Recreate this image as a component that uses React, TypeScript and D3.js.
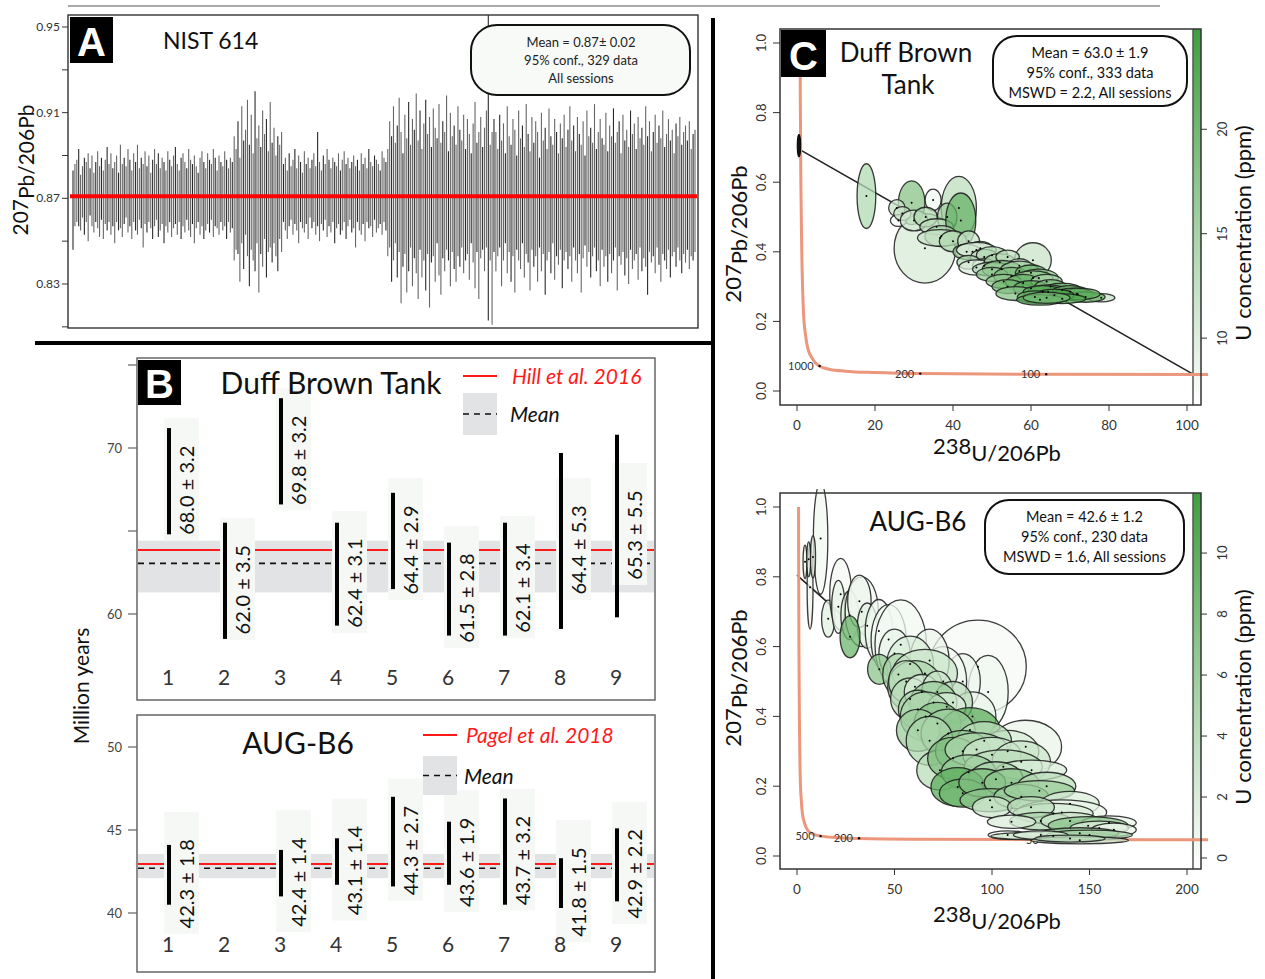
import React from "react";
import * as d3 from "d3";

const SANS = "Lato, 'Open Sans', 'DejaVu Sans', sans-serif";
const BOLD = "'Liberation Sans', Arial, sans-serif";

// ---------------- Panel A : NIST 614 ----------------
const nistMean = 0.871;
const nistTickValues = [0.81, 0.83, 0.85, 0.87, 0.89, 0.91, 0.93, 0.95];
const nistTickLabels = [0.83, 0.87, 0.91, 0.95];
const nistStats = ["Mean = 0.87\u00b1 0.02", "95% conf., 329 data", "All sessions"];
// [upper, lower] extent of each error bar about the mean, in thousandths
const nistBars = [
  [12,25],[15,14],[17,12],[22,14],[10,16],[14,10],[18,18],[16,12],[20,21],[13,9],
  [19,14],[11,17],[16,12],[21,15],[14,19],[18,11],[12,20],[17,13],[23,16],[15,12],
  [20,18],[13,14],[16,22],[19,12],[11,16],[24,15],[15,19],[18,13],[14,10],[22,17],
  [17,14],[12,20],[20,12],[16,16],[24,18],[13,11],[18,15],[15,24],[21,13],[14,17],
  [19,12],[11,15],[17,20],[22,14],[15,11],[20,19],[13,16],[18,13],[16,22],[12,14],
  [21,17],[17,12],[14,19],[19,15],[23,13],[15,18],[12,12],[18,20],[20,14],[16,17],
  [13,11],[22,16],[17,19],[15,13],[19,22],[14,15],[11,12],[18,18],[21,14],[16,20],
  [13,16],[20,13],[17,17],[15,11],[22,19],[18,14],[12,15],[19,18],[16,12],[14,16],
  [21,14],[17,20],[13,12],[18,17],[16,15],
  [28,30],[22,25],[35,27],[18,40],[42,22],[26,34],[31,18],[45,28],[24,42],[38,25],
  [20,30],[49,35],[27,22],[33,45],[23,27],[40,33],[29,20],[36,38],[21,26],[44,24],
  [25,31],[32,22],[19,28],[28,35],[24,20],[30,26],
  [15,12],[18,16],[12,20],[20,14],[14,11],[17,18],[22,13],[13,16],[19,22],[16,12],
  [11,15],[21,17],[15,13],[18,20],[13,10],[17,15],[20,12],[14,18],[30,14],[16,21],
  [12,13],[19,16],[15,11],[22,19],[17,14],[13,17],[18,12],[16,22],[14,15],[20,13],
  [12,18],[17,16],[21,12],[15,20],[18,14],[13,11],[16,17],[19,15],[14,24],[17,12],
  [12,16],[20,18],[15,13],[18,21],[13,12],[22,15],[16,14],[14,19],[19,11],[17,17],
  [15,15],[12,13],[21,18],[18,12],[16,16],
  [22,28],[35,24],[28,40],[42,30],[25,22],[33,38],[46,26],[30,50],[20,33],[38,27],
  [27,45],[44,35],[24,24],[36,42],[31,29],[48,36],[26,48],[40,25],[22,38],[34,30],
  [45,44],[29,27],[37,52],[23,31],[41,28],[32,40],[27,22],[43,37],[25,46],[35,29],
  [30,35],[47,25],[21,30],[39,42],[28,26],[33,34],[24,40],[42,28],[31,33],[26,24],
  [38,36],[22,30],[36,27],[29,39],[20,22],[34,31],[44,43],[25,26],[30,48],[37,29],
  [23,25],[32,35],[40,24],
  [95,58],[24,30],[30,60],[36,26],
  [30,35],[22,28],[38,24],[26,42],[34,30],[20,22],[42,36],[28,26],[24,40],[36,28],
  [31,45],[19,25],[40,30],[27,34],[33,22],[23,38],[43,27],[29,31],[21,44],[37,25],
  [25,33],[35,28],[30,40],[18,24],[39,35],[26,27],[32,46],[22,30],[41,26],[28,36],
  [24,22],[36,39],[30,28],[20,32],[34,25],[27,43],[38,30],[23,26],[31,34],[42,28],
  [26,40],[33,24],[21,30],[37,36],[29,27],[24,45],[35,29],[19,23],[40,33],[28,26],
  [32,38],[25,28],[43,24],[22,35],[30,30],[36,42],[27,25],[24,33],[39,28],[21,40],
  [33,27],[28,36],[41,30],[25,24],[30,44],[35,28],[20,32],[38,26],[26,37],[31,29],
  [23,41],[40,25],[29,34],[34,30],[22,27],[37,39],[27,24],[32,35],[24,29],[42,33],
  [28,46],[35,26],[21,31],[30,28],[38,36],[25,24],[33,32],[27,40],[40,27],[23,30],
  [29,34],[36,25],[26,38],[31,28],[20,26],[34,33],[28,24],[37,30],[24,36],[30,27],
  [33,31],[26,25],[35,34],[22,28],[29,30],[31,26],
];

// ---------------- Panel B : ages ----------------
const sampleNums = ["1", "2", "3", "4", "5", "6", "7", "8", "9"];
const dbtAges = [68.0, 62.0, 69.8, 62.4, 64.4, 61.5, 62.1, 64.4, 65.3];
const dbtErrs = [3.2, 3.5, 3.2, 3.1, 2.9, 2.8, 3.4, 5.3, 5.5];
const dbtRefAge = 63.85;
const dbtMeanAge = 63.05;
const dbtBand = [61.3, 64.42];
const dbtTicks = [60, 65, 70, 75];
const dbtTickLabels = [60, 70];

const augAges = [42.3, null, 42.4, 43.1, 44.3, 43.6, 43.7, 41.8, 42.9];
const augErrs = [1.8, null, 1.4, 1.4, 2.7, 1.9, 3.2, 1.5, 2.2];
const augRefAge = 42.95;
const augMeanAge = 42.7;
const augBand = [42.1, 43.55];
const augTicks = [40, 45, 50];
const augTickLabels = [40, 45, 50];

// ---------------- Panel C : Tera-Wasserburg ----------------
const concordiaPts = [
  [0.8, 1.0], [0.85, 0.84], [0.99, 0.6], [1.2, 0.42], [1.69, 0.22], [2.2, 0.16],
  [2.75, 0.123], [4.0, 0.092], [5.6, 0.0725], [8.5, 0.062], [12.4, 0.057],
  [20, 0.053], [31.7, 0.05], [63.9, 0.048], [128, 0.047], [215, 0.0466],
];
const dbtAgeMarks = [
  { label: "1000", x: 5.8, y: 0.072 },
  { label: "200", x: 31.6, y: 0.05 },
  { label: "100", x: 63.9, y: 0.048 },
];
const augAgeMarks = [
  { label: "500", x: 12.1, y: 0.057 },
  { label: "200", x: 31.8, y: 0.051 },
  { label: "50", x: 127, y: 0.047 },
];
const dbtDiscordia = [[0.5, 0.695], [101.3, 0.05]];
const augDiscordia = [[0, 0.805], [152, 0.048]];
const dbtAnchor = [0.5, 0.705, 0.45, 0.033];
const dbtStats = ["Mean = 63.0 \u00b1 1.9", "95% conf., 333 data", "MSWD = 2.2, All sessions"];
const augStats = ["Mean = 42.6 \u00b1 1.2", "95% conf., 230 data", "MSWD = 1.6, All sessions"];
const dbtUTicks = [10, 15, 20];
const augUTicks = [0, 2, 4, 6, 8, 10];
const dbtXTicks = [0, 20, 40, 60, 80, 100];
const augXTicks = [0, 50, 100, 150, 200];
const ratioTicks = [0, 0.2, 0.4, 0.6, 0.8, 1.0];

// [x, y, rx, ry, U ppm]
const dbtEllipses = [
  [17.8, 0.56, 2.4, 0.093, 14],
  [32.8, 0.41, 7.9, 0.1, 10.5],
  [41.5, 0.526, 4.5, 0.091, 13],
  [29.4, 0.541, 3.4, 0.063, 18],
  [25.6, 0.526, 2.1, 0.024, 12],
  [26.0, 0.49, 2.05, 0.017, 8],
  [27.0, 0.51, 2.2, 0.02, 12],
  [34.9, 0.549, 2.05, 0.031, 8],
  [30.0, 0.49, 3.5, 0.03, 11],
  [33.0, 0.5, 3.0, 0.028, 14],
  [38.5, 0.5, 2.5, 0.04, 16],
  [35.8, 0.472, 4.3, 0.023, 13],
  [42.0, 0.49, 3.85, 0.079, 21],
  [37.0, 0.445, 4.2, 0.03, 15],
  [36.7, 0.44, 5.8, 0.024, 12],
  [40.0, 0.43, 3.5, 0.03, 14],
  [44.0, 0.43, 2.8, 0.03, 12],
  [45.0, 0.4, 4.5, 0.025, 11],
  [47.0, 0.41, 3.0, 0.02, 13],
  [43.5, 0.4, 3.5, 0.022, 15],
  [46.0, 0.405, 5.1, 0.022, 10],
  [48.0, 0.385, 3.5, 0.022, 12],
  [50.0, 0.39, 4.0, 0.025, 14],
  [44.0, 0.37, 3.0, 0.02, 14],
  [48.0, 0.36, 3.0, 0.02, 11],
  [46.0, 0.355, 4.5, 0.022, 10],
  [60.5, 0.376, 4.7, 0.05, 12],
  [52.0, 0.37, 4.0, 0.025, 15],
  [54.0, 0.385, 3.0, 0.02, 13],
  [57.0, 0.36, 3.0, 0.02, 11],
  [50.0, 0.35, 5.0, 0.02, 13],
  [52.5, 0.35, 5.0, 0.025, 18],
  [57.0, 0.345, 5.0, 0.028, 16],
  [50.0, 0.335, 4.0, 0.02, 17],
  [55.0, 0.33, 4.5, 0.025, 19],
  [60.0, 0.34, 4.0, 0.022, 20],
  [62.0, 0.325, 5.0, 0.025, 18],
  [60.5, 0.325, 5.1, 0.02, 17],
  [53.0, 0.315, 4.5, 0.02, 17],
  [58.0, 0.31, 4.5, 0.025, 21],
  [64.0, 0.315, 4.0, 0.02, 15],
  [54.0, 0.3, 4.0, 0.02, 20],
  [60.0, 0.295, 4.5, 0.022, 22],
  [65.0, 0.3, 4.0, 0.02, 19],
  [56.0, 0.28, 5.0, 0.02, 18],
  [68.0, 0.29, 5.0, 0.02, 21],
  [78.0, 0.268, 3.5, 0.012, 12],
  [64.4, 0.285, 5.1, 0.02, 20],
  [63.0, 0.285, 5.0, 0.018, 23],
  [70.0, 0.285, 4.5, 0.018, 20],
  [72.0, 0.278, 4.0, 0.016, 22],
  [74.0, 0.27, 5.0, 0.015, 21],
  [71.7, 0.279, 6.0, 0.017, 22],
  [66.0, 0.275, 5.0, 0.018, 24],
  [68.0, 0.265, 6.0, 0.014, 23],
  [61.0, 0.27, 4.5, 0.018, 21],
  [62.3, 0.262, 6.0, 0.015, 22],
  [64.0, 0.268, 6.0, 0.016, 20],
];

const augEllipses = [
  [12.1, 0.91, 3.7, 0.16, 0.5],
  [6.7, 0.77, 1.5, 0.12, 0.8],
  [4.1, 0.843, 1.0, 0.048, 1],
  [6.0, 0.85, 1.0, 0.05, 1.5],
  [8.2, 0.857, 1.3, 0.06, 1],
  [16.0, 0.68, 3.4, 0.053, 1.5],
  [22.4, 0.75, 5.6, 0.103, 0.4],
  [21.2, 0.714, 3.4, 0.076, 1],
  [27.0, 0.69, 4.5, 0.07, 2],
  [33.2, 0.7, 8.5, 0.1, 0.5],
  [32.0, 0.73, 6.0, 0.075, 0.8],
  [36.0, 0.66, 5.0, 0.065, 1.5],
  [27.2, 0.628, 5.1, 0.06, 9],
  [42.0, 0.645, 7.0, 0.09, 0.6],
  [47.0, 0.62, 9.0, 0.1, 0.4],
  [53.2, 0.605, 13.2, 0.129, 0.5],
  [50.0, 0.58, 8.0, 0.07, 1],
  [92.8, 0.542, 24.8, 0.134, 0.3],
  [98.0, 0.47, 10.3, 0.105, 0.6],
  [85.0, 0.5, 9.0, 0.08, 0.8],
  [75.0, 0.5, 12.0, 0.1, 0.5],
  [68.0, 0.56, 10.0, 0.09, 1],
  [58.0, 0.55, 12.0, 0.08, 2],
  [42.2, 0.535, 6.0, 0.043, 7],
  [52.0, 0.52, 8.0, 0.06, 5],
  [65.6, 0.523, 16.7, 0.069, 3],
  [60.5, 0.485, 14.0, 0.075, 5],
  [56.0, 0.5, 9.0, 0.06, 4],
  [58.0, 0.45, 10.0, 0.06, 4],
  [64.0, 0.47, 9.0, 0.05, 2],
  [72.0, 0.47, 8.0, 0.06, 3],
  [90.0, 0.4, 12.0, 0.07, 1],
  [80.0, 0.44, 10.0, 0.06, 4],
  [70.0, 0.44, 12.0, 0.06, 6],
  [62.0, 0.42, 10.0, 0.055, 5],
  [76.8, 0.428, 9.8, 0.04, 2],
  [66.0, 0.4, 13.0, 0.07, 5],
  [72.0, 0.38, 12.0, 0.06, 7],
  [62.0, 0.36, 11.0, 0.06, 6],
  [88.7, 0.361, 15.4, 0.064, 10],
  [77.6, 0.351, 14.0, 0.07, 6],
  [68.0, 0.33, 12.0, 0.07, 5],
  [117.3, 0.313, 18.4, 0.076, 1],
  [108.0, 0.3, 16.0, 0.06, 2],
  [96.0, 0.33, 14.0, 0.055, 4],
  [73.3, 0.246, 11.9, 0.057, 4],
  [85.0, 0.3, 14.0, 0.06, 7],
  [80.0, 0.28, 13.0, 0.06, 8],
  [92.1, 0.305, 16.2, 0.048, 5],
  [100.0, 0.29, 15.0, 0.05, 3],
  [115.0, 0.27, 15.0, 0.06, 3],
  [105.8, 0.256, 20.0, 0.048, 4],
  [88.0, 0.24, 14.0, 0.05, 6],
  [120.3, 0.246, 18.0, 0.029, 2],
  [102.0, 0.22, 14.0, 0.05, 5],
  [82.4, 0.198, 13.7, 0.055, 10],
  [85.0, 0.18, 12.0, 0.04, 9],
  [95.0, 0.21, 12.0, 0.04, 8],
  [110.0, 0.21, 14.0, 0.04, 7],
  [128.0, 0.2, 15.0, 0.04, 4],
  [99.0, 0.16, 15.4, 0.033, 7],
  [115.0, 0.17, 14.0, 0.035, 6],
  [124.3, 0.187, 18.0, 0.029, 6],
  [140.0, 0.15, 15.0, 0.035, 2],
  [100.0, 0.14, 10.0, 0.03, 3],
  [135.8, 0.125, 23.0, 0.036, 1],
  [131.4, 0.122, 20.5, 0.029, 2],
  [120.0, 0.14, 12.0, 0.03, 4],
  [125.0, 0.1, 16.0, 0.025, 5],
  [110.0, 0.098, 12.4, 0.019, 2],
  [140.0, 0.1, 15.0, 0.025, 3],
  [160.0, 0.095, 14.0, 0.02, 1],
  [149.3, 0.087, 20.5, 0.026, 7],
  [155.0, 0.08, 15.0, 0.02, 2],
  [162.5, 0.075, 11.5, 0.019, 1],
  [108.0, 0.06, 10.0, 0.012, 1],
  [131.4, 0.057, 32.0, 0.012, 3],
  [145.0, 0.065, 20.0, 0.016, 6],
  [150.0, 0.06, 22.0, 0.014, 5],
  [125.0, 0.06, 14.0, 0.012, 2],
  [145.0, 0.045, 25.0, 0.01, 3],
  [140.0, 0.05, 18.0, 0.01, 4],
];

// ---------------- components ----------------
function LetterBox({ x, y, w, h, letter }) {
  return (
    <g>
      <rect x={x} y={y} width={w} height={h} fill="#000" />
      <text x={x + w / 2} y={y + h - 7} textAnchor="middle" fontSize={40} fontWeight="bold" fontFamily={BOLD} fill="#fff">
        {letter}
      </text>
    </g>
  );
}

function PanelA() {
  const x = d3.scaleLinear().domain([0, nistBars.length - 1]).range([73, 695]);
  const y = d3.scaleLinear().domain([0.83, 0.95]).range([284, 27]);
  return (
    <g>
      <defs>
        <clipPath id="clipA">
          <rect x={68} y={15} width={630} height={313} />
        </clipPath>
      </defs>
      <g clipPath="url(#clipA)">
        {nistBars.map(([hi, lo], i) => (
          <line key={i} x1={x(i)} x2={x(i)} y1={y(nistMean + hi / 1000)} y2={y(nistMean - lo / 1000)}
            stroke={i % 3 === 0 ? "#2a2a2a" : "#666"} strokeWidth={1.1} />
        ))}
      </g>
      <line x1={70} x2={697} y1={y(nistMean)} y2={y(nistMean)} stroke="#ff0000" strokeWidth={4} />
      <rect x={68} y={15} width={630} height={313} fill="none" stroke="#222" strokeWidth={1.3} />
      {nistTickValues.map((t) => (
        <line key={t} x1={62} x2={68} y1={y(t)} y2={y(t)} stroke="#333" strokeWidth={1} />
      ))}
      {nistTickLabels.map((t) => (
        <text key={t} x={60} y={y(t) + 4} textAnchor="end" fontSize={12} fill="#333">{t.toFixed(2)}</text>
      ))}
      <text transform="translate(28,170) rotate(-90)" textAnchor="middle" fontSize={21} fill="#111">
        207<tspan dy={6}>Pb/206Pb</tspan>
      </text>
      <LetterBox x={70} y={17} w={43} h={46} letter="A" />
      <text x={163} y={49} fontSize={23} fill="#111">NIST 614</text>
      <rect x={471} y={25} width={219} height={70} rx={26} fill="#f7faf7" stroke="#111" strokeWidth={2} />
      {nistStats.map((s, i) => (
        <text key={i} x={581} y={47 + i * 18} textAnchor="middle" fontSize={13} fill="#222">{s}</text>
      ))}
    </g>
  );
}

function AgePanel({ cfg }) {
  const { box, yDom, yRange, ages, errs, refAge, meanAge, band, ticks, tickLabels, title, titleX, titleY, refLabel, leg, numY } = cfg;
  const x = d3.scalePoint().domain(sampleNums).range([168, 616]);
  const y = d3.scaleLinear().domain(yDom).range(yRange);
  const left = box.x + 1;
  const right = box.x + box.w - 1;
  return (
    <g>
      <rect x={left} y={y(band[1])} width={right - left} height={y(band[0]) - y(band[1])} fill="#e2e3e5" />
      <line x1={left} x2={right} y1={y(refAge)} y2={y(refAge)} stroke="#ff1a1a" strokeWidth={2} />
      <line x1={left} x2={right} y1={y(meanAge)} y2={y(meanAge)} stroke="#111" strokeWidth={1.6} strokeDasharray="6,5" />
      {ages.map((a, i) => {
        if (a == null) return null;
        const bx = x(sampleNums[i]) + 1;
        const tc = y(a) + 9;
        return <rect key={"r" + i} x={bx - 5} y={tc - 72} width={35} height={122} fill="#f6f8f6" />;
      })}
      {ages.map((a, i) => {
        if (a == null) return null;
        const bx = x(sampleNums[i]) + 1;
        const e = errs[i];
        const tc = y(a) + 9;
        return (
          <g key={"b" + i}>
            <line x1={bx} x2={bx} y1={y(a + e)} y2={y(a - e)} stroke="#000" strokeWidth={4} />
            <text transform={`translate(${bx + 25},${tc}) rotate(-90)`} textAnchor="middle" fontSize={20} fill="#111">
              {`${a.toFixed(1)} \u00b1 ${e.toFixed(1)}`}
            </text>
          </g>
        );
      })}
      {sampleNums.map((n) => (
        <text key={n} x={x(n)} y={numY} textAnchor="middle" fontSize={21} fill="#333">{n}</text>
      ))}
      {ticks.map((t) => (
        <line key={t} x1={128} x2={box.x} y1={y(t)} y2={y(t)} stroke="#444" strokeWidth={1} />
      ))}
      {tickLabels.map((t) => (
        <text key={t} x={122} y={y(t) + 5} textAnchor="end" fontSize={13} fill="#444">{t}</text>
      ))}
      <text x={titleX} y={titleY} textAnchor="middle" fontSize={30} fill="#111">{title}</text>
      <line x1={leg.x} x2={leg.x + 34} y1={leg.redY} y2={leg.redY} stroke="#ff1a1a" strokeWidth={2} />
      <text x={leg.textX} y={leg.redY + 8} fontSize={21} fontStyle="italic" fill="#ff1a1a">{refLabel}</text>
      <rect x={leg.x} y={leg.rectY} width={34} height={leg.rectH} fill="#e2e3e5" />
      <line x1={leg.x} x2={leg.x + 34} y1={leg.rectY + leg.rectH / 2} y2={leg.rectY + leg.rectH / 2} stroke="#111" strokeWidth={1.6} strokeDasharray="6,5" />
      <text x={leg.meanX} y={leg.rectY + leg.rectH / 2 + 8} fontSize={21} fontStyle="italic" fill="#111">Mean</text>
      <rect x={box.x} y={box.y} width={box.w} height={box.h} fill="none" stroke="#666" strokeWidth={1.5} />
    </g>
  );
}

function ConcordiaPanel({ cfg }) {
  const { id, box, xDom, yRange, xTicks, cbDom, cbTicks, ellipses, ageMarks, discordia, stats, statsBox, titleLines, xTitleY, yTitleY } = cfg;
  const x = d3.scaleLinear().domain(xDom).range([797, 1187]);
  const y = d3.scaleLinear().domain([0, 1]).range(yRange);
  const cb = d3.scaleLinear().domain(cbDom).range([box.y1, box.y0]);
  const col = d3.scaleLinear().domain(cbDom).range(["#ffffff", "#3f9f3f"]).interpolate(d3.interpolateRgb);
  const curve = d3.line().x((d) => x(d[0])).y((d) => y(d[1])).curve(d3.curveMonotoneX);
  const midY = (box.y0 + box.y1) / 2;
  return (
    <g>
      <defs>
        <linearGradient id={id + "grad"} x1="0" y1="1" x2="0" y2="0">
          <stop offset="0" stopColor={col(cbDom[0])} />
          <stop offset="1" stopColor={col(cbDom[1])} />
        </linearGradient>
        <clipPath id={id + "clip"}>
          <rect x={box.x0} y={box.y0 - 4} width={1208 - box.x0} height={box.y1 - box.y0 + 4} />
        </clipPath>
      </defs>
      <rect x={1193} y={box.y0} width={box.x1 - 1193} height={box.y1 - box.y0} fill={`url(#${id}grad)`} />
      <line x1={1193} x2={1193} y1={box.y0} y2={box.y1} stroke="#555" strokeWidth={1.5} />
      <line x1={x(discordia[0][0])} y1={y(discordia[0][1])} x2={x(discordia[1][0])} y2={y(discordia[1][1])} stroke="#222" strokeWidth={1.6} />
      <path d={curve(concordiaPts)} fill="none" stroke="#ec967c" strokeWidth={3} clipPath={`url(#${id}clip)`} />
      {ageMarks.map((m) => (
        <g key={m.label}>
          <circle cx={x(m.x)} cy={y(m.y)} r={1.2} fill="#000" />
          <text x={x(m.x) - 6} y={y(m.y) + 4} textAnchor="end" fontSize={11} fill="#333">{m.label}</text>
        </g>
      ))}
      <g clipPath={`url(#${id}clip)`}>
        {ellipses.map((e, i) => (
          <ellipse key={i} cx={x(e[0])} cy={y(e[1])} rx={x(e[0] + e[2]) - x(e[0])} ry={y(e[1]) - y(e[1] + e[3])}
            fill={col(e[4])} fillOpacity={0.75} stroke="#1a1a1a" strokeOpacity={0.85} strokeWidth={1.3} />
        ))}
        {ellipses.map((e, i) => (
          <circle key={"d" + i} cx={x(e[0])} cy={y(e[1])} r={1} fill="#000" />
        ))}
      </g>
      {cfg.anchor && (
        <ellipse cx={x(cfg.anchor[0])} cy={y(cfg.anchor[1])} rx={x(cfg.anchor[0] + cfg.anchor[2]) - x(cfg.anchor[0])}
          ry={y(cfg.anchor[1]) - y(cfg.anchor[1] + cfg.anchor[3])} fill="#111" stroke="#000" />
      )}
      <rect x={box.x0} y={box.y0} width={box.x1 - box.x0} height={box.y1 - box.y0} fill="none" stroke="#333" strokeWidth={1.5} />
      {xTicks.map((t) => (
        <g key={t}>
          <line x1={x(t)} x2={x(t)} y1={box.y1} y2={box.y1 + 6} stroke="#333" />
          <text x={x(t)} y={box.y1 + 25} textAnchor="middle" fontSize={13.5} fill="#333">{t}</text>
        </g>
      ))}
      {ratioTicks.map((t) => (
        <g key={t}>
          <line x1={box.x0 - 7} x2={box.x0} y1={y(t)} y2={y(t)} stroke="#333" />
          <text transform={`translate(${box.x0 - 14},${y(t)}) rotate(-90)`} textAnchor="middle" fontSize={13} fill="#333">{t.toFixed(1)}</text>
        </g>
      ))}
      {cbTicks.map((t) => (
        <g key={t}>
          <line x1={box.x1} x2={box.x1 + 6} y1={cb(t)} y2={cb(t)} stroke="#333" />
          <text transform={`translate(${box.x1 + 26},${cb(t)}) rotate(-90)`} textAnchor="middle" fontSize={13} fill="#333">{t}</text>
        </g>
      ))}
      <text transform={`translate(1251,${midY + 16}) rotate(-90)`} textAnchor="middle" fontSize={22} fill="#111">U concentration (ppm)</text>
      <text transform={`translate(741,${yTitleY}) rotate(-90)`} textAnchor="middle" fontSize={22} fill="#111">
        207<tspan dy={6}>Pb/206Pb</tspan>
      </text>
      <text x={997} y={xTitleY} textAnchor="middle" fontSize={22} fill="#111">
        238<tspan dy={7}>U/206Pb</tspan>
      </text>
      {titleLines.map((t, i) => (
        <text key={i} x={t.x} y={t.y} textAnchor="middle" fontSize={26} fill="#111">{t.text}</text>
      ))}
      <rect x={statsBox.x} y={statsBox.y} width={statsBox.w} height={statsBox.h} rx={24} fill="#fff" stroke="#111" strokeWidth={2} />
      {stats.map((s, i) => (
        <text key={i} x={statsBox.x + statsBox.w / 2} y={statsBox.y + 22 + i * 20} textAnchor="middle" fontSize={14.5} fill="#111">{s}</text>
      ))}
      {cfg.letter && <LetterBox x={781} y={30} w={45} h={47} letter={cfg.letter} />}
    </g>
  );
}

const dbtCfg = {
  box: { x: 137, y: 358, w: 518, h: 342 },
  yDom: [60, 70], yRange: [614, 448],
  ages: dbtAges, errs: dbtErrs, refAge: dbtRefAge, meanAge: dbtMeanAge, band: dbtBand,
  ticks: dbtTicks, tickLabels: dbtTickLabels,
  title: "Duff Brown Tank", titleX: 331, titleY: 394,
  refLabel: "Hill et al. 2016",
  leg: { x: 463, redY: 376, textX: 512, rectY: 393, rectH: 42, meanX: 510 },
  numY: 685,
};
const augCfg = {
  box: { x: 137, y: 715, w: 518, h: 257 },
  yDom: [40, 50], yRange: [913, 747],
  ages: augAges, errs: augErrs, refAge: augRefAge, meanAge: augMeanAge, band: augBand,
  ticks: augTicks, tickLabels: augTickLabels,
  title: "AUG-B6", titleX: 298, titleY: 754,
  refLabel: "Pagel et al. 2018",
  leg: { x: 423, redY: 735, textX: 466, rectY: 756, rectH: 39, meanX: 464 },
  numY: 952,
};

const dbtCCfg = {
  id: "c1",
  box: { x0: 780, x1: 1201, y0: 29, y1: 405 },
  xDom: [0, 100], yRange: [391, 43], xTicks: dbtXTicks,
  cbDom: [6.8, 24.8], cbTicks: dbtUTicks,
  ellipses: dbtEllipses, ageMarks: dbtAgeMarks, discordia: dbtDiscordia, anchor: dbtAnchor,
  stats: dbtStats, statsBox: { x: 993, y: 36, w: 194, h: 70 },
  titleLines: [{ text: "Duff Brown", x: 906, y: 62 }, { text: "Tank", x: 908, y: 94 }],
  xTitleY: 454, yTitleY: 234, letter: "C",
};
const augCCfg = {
  id: "c2",
  box: { x0: 780, x1: 1201, y0: 493, y1: 869 },
  xDom: [0, 200], yRange: [856, 507], xTicks: augXTicks,
  cbDom: [-0.36, 11.97], cbTicks: augUTicks,
  ellipses: augEllipses, ageMarks: augAgeMarks, discordia: augDiscordia, anchor: null,
  stats: augStats, statsBox: { x: 985, y: 500, w: 199, h: 74 },
  titleLines: [{ text: "AUG-B6", x: 918, y: 531 }],
  xTitleY: 922, yTitleY: 678, letter: null,
};

export default function App() {
  return (
    <svg width={1265} height={979} style={{ position: "absolute", left: 0, top: 0, background: "#fff", fontFamily: SANS }}>
      <rect x={0} y={0} width={1265} height={979} fill="#fff" />
      <line x1={68} x2={1160} y1={6} y2={6} stroke="#aaa" strokeWidth={2} />
      <PanelA />
      <line x1={35} x2={715} y1={343} y2={343} stroke="#000" strokeWidth={4} />
      <line x1={713} x2={713} y1={18} y2={979} stroke="#000" strokeWidth={4} />
      <AgePanel cfg={dbtCfg} />
      <AgePanel cfg={augCfg} />
      <LetterBox x={138} y={360} w={43} h={45} letter="B" />
      <text transform="translate(89,686) rotate(-90)" textAnchor="middle" fontSize={21} fill="#111">Million years</text>
      <ConcordiaPanel cfg={dbtCCfg} />
      <ConcordiaPanel cfg={augCCfg} />
    </svg>
  );
}
